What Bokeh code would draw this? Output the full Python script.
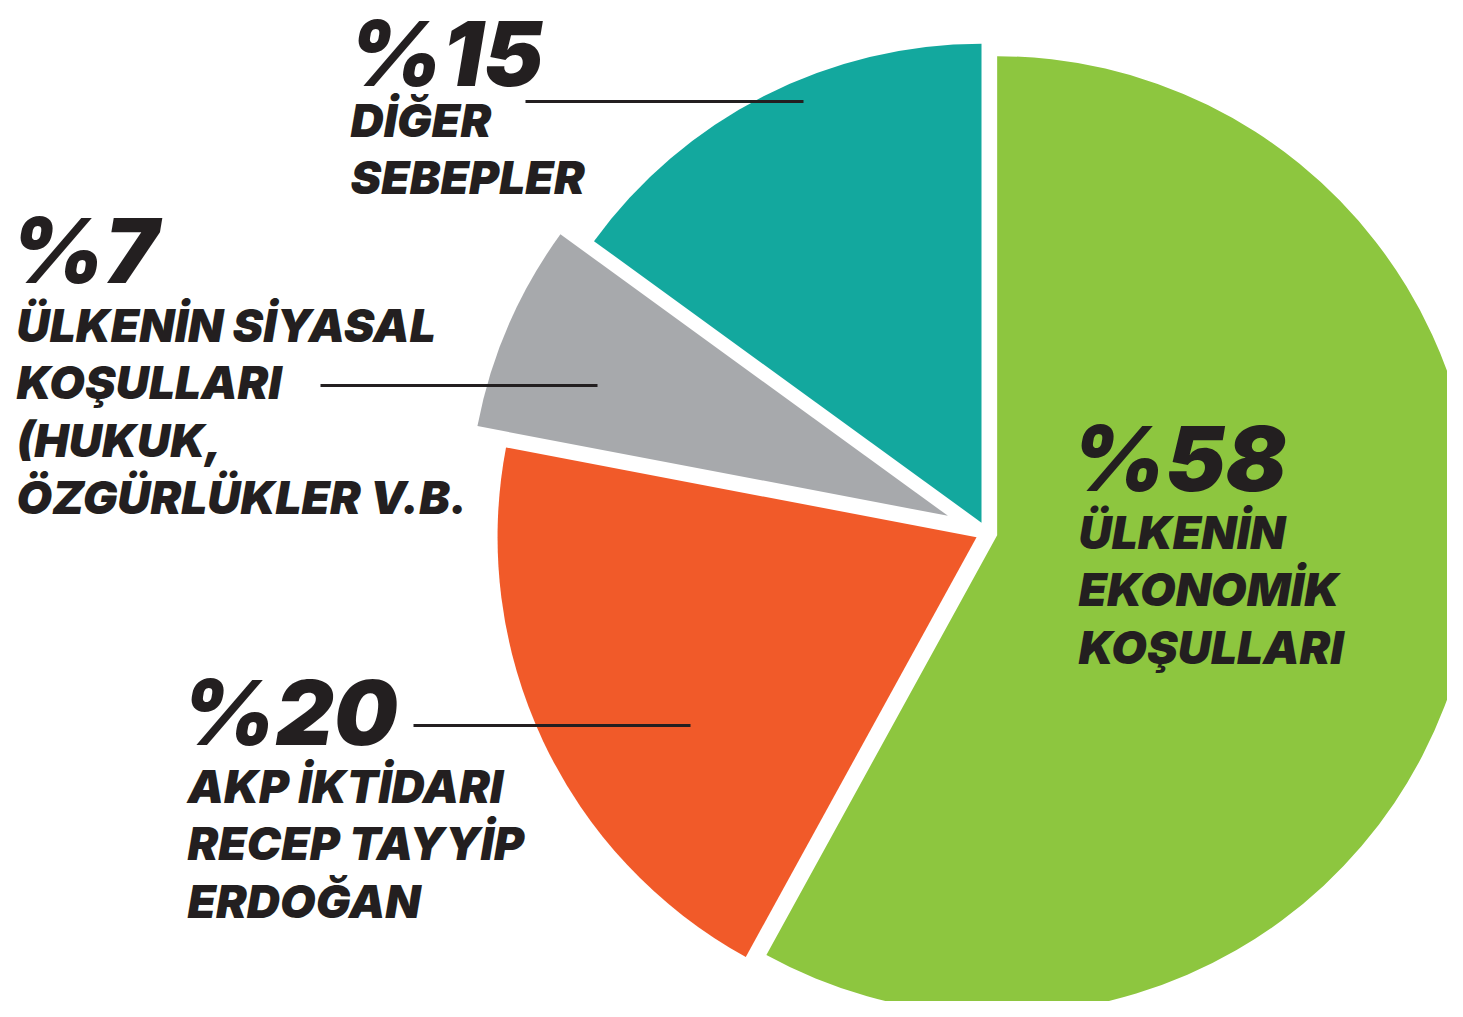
import numpy as np
from bokeh.plotting import figure
from bokeh.models import ColumnDataSource, Range1d
from bokeh.core.properties import value
from bokeh.embed import file_html
from bokeh.resources import INLINE

# ---------------- data ----------------
categories = [
    "ÜLKENİN EKONOMİK KOŞULLARI",
    "AKP İKTİDARI RECEP TAYYİP ERDOĞAN",
    "ÜLKENİN SİYASAL KOŞULLARI (HUKUK, ÖZGÜRLÜKLER V.B.",
    "DİĞER SEBEPLER",
]
values = [58, 20, 7, 15]
label_lines = [
    ["ÜLKENİN", "EKONOMİK", "KOŞULLARI"],
    ["AKP İKTİDARI", "RECEP TAYYİP", "ERDOĞAN"],
    ["ÜLKENİN SİYASAL", "KOŞULLARI", "(HUKUK,", "ÖZGÜRLÜKLER V.B."],
    ["DİĞER", "SEBEPLER"],
]
colors = ["#8dc63f", "#f15a29", "#a7a9ac", "#13a89e"]

# ---------------- layout (reference pixels, y downward) ----------------
W, H = 1447, 1001
cx, cy, R = 986, 532, 479
explode = [11, 11, 42, 11]
pct_size, lab_size = 90, 46
pct_pos = [(1071, 491), (181, 745), (10, 283), (348, 86)]
label_pos = [(1078, 548), (187, 802), (16, 341), (350, 136)]
line_step = 57.5
leaders = [None, (413, 690, 725), (320, 597, 385), (525, 803, 101)]
ink = "#231f20"
base_fix = 0.365   # renderer places "alphabetic" text this many em lower

# ---------------- pie geometry ----------------
vals = np.array(values, dtype=float)
frac = vals / vals.sum()
cum = np.concatenate([[0], np.cumsum(frac)]) * 360.0   # clockwise from 12 o'clock
theta0, theta1 = cum[:-1], cum[1:]
mid = np.radians((theta0 + theta1) / 2)
ex = np.array(explode, dtype=float)
wx = cx + ex * np.sin(mid)
wy = -cy + ex * np.cos(mid)          # data y is -pixel y

src = ColumnDataSource(dict(
    x=wx, y=wy, start=90 - theta0, end=90 - theta1, color=colors, cat=categories,
))

p = figure(width=W, height=H, output_backend="svg", toolbar_location=None,
           x_range=Range1d(0, W), y_range=Range1d(-H, 0),
           min_border=0, outline_line_color=None, background_fill_color="white",
           border_fill_color="white")
p.axis.visible = False
p.grid.visible = False

p.wedge(x="x", y="y", radius=R, start_angle="start", end_angle="end",
        start_angle_units="deg", end_angle_units="deg", direction="clock",
        fill_color="color", line_color=None, source=src)

# leader lines
for ld in leaders:
    if ld is None:
        continue
    x0, x1, yy = ld
    p.line(x=[x0, x1], y=[-yy, -yy], line_color=ink, line_width=3)

# percentage labels
p.text(x=[q[0] for q in pct_pos], y=[-(q[1] - base_fix * pct_size) for q in pct_pos],
       text=[f"%{v}" for v in values],
       text_font=value("Inter Black"), text_font_style="italic",
       text_font_size=f"{pct_size}px", text_color=ink,
       text_align="left", text_baseline="alphabetic")

# category labels
tx, ty, tt = [], [], []
for (lx, ly), lines in zip(label_pos, label_lines):
    for i, s in enumerate(lines):
        tx.append(lx)
        ty.append(-(ly + i * line_step - base_fix * lab_size))
        tt.append(s)
p.text(x=tx, y=ty, text=tt,
       text_font=value("Inter Black"), text_font_style="italic",
       text_font_size=f"{lab_size}px", text_color=ink,
       text_align="left", text_baseline="alphabetic")

open("out.html", "w").write(file_html(p, INLINE))
